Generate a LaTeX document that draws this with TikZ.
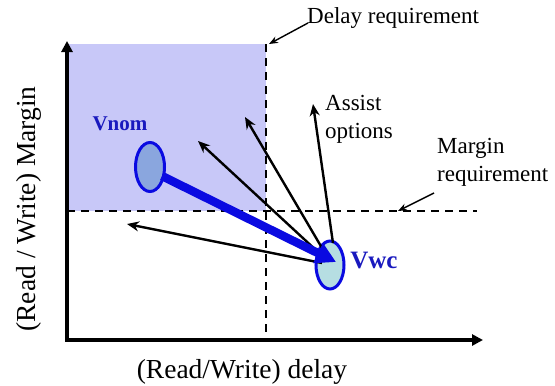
\documentclass[tikz,border=0pt]{standalone}
\usepackage{fontspec}
\setmainfont{Liberation Serif}
\usetikzlibrary{arrows.meta,shapes.geometric}
\definecolor{regionfill}{RGB}{200,200,248}
\definecolor{nomfill}{RGB}{138,166,222}
\definecolor{wcfill}{RGB}{182,222,226}
\definecolor{ptblue}{RGB}{10,10,225}
\definecolor{lblblue}{RGB}{25,25,190}
\tikzset{
  axis/.style={line width=3.5pt,-{Triangle[length=11pt,width=11pt]}},
  reqline/.style={line width=2.5pt,dash pattern=on 8pt off 6pt},
  corner/.style={line width=1.4pt,-{Stealth[length=9pt,width=7pt]}},
  assist/.style={line width=2.4pt,-{Stealth[length=12pt,width=10pt]}},
  vpoint/.style={ellipse,draw=ptblue,line width=3pt,inner sep=0pt},
  note/.style={font=\fontsize{23}{28}\selectfont,align=left,inner sep=0pt},
  axlabel/.style={font=\fontsize{27.5}{30}\selectfont,inner sep=0pt}
}
\begin{document}
\begin{tikzpicture}[x=1pt,y=-1pt]
\useasboundingbox (0,0) rectangle (555,386);
% feasible region
\fill[regionfill] (67,44) rectangle (266,211);
% requirement lines
\coordinate (dtop) at (266,44);
\coordinate (dbot) at (266,341);
\coordinate (mleft) at (67,211);
\coordinate (mright) at (477,211);
\draw[reqline] (dtop) -- (dbot);
\draw[reqline] (mleft) -- (mright);
% axes
\coordinate (origin) at (67,340);
\coordinate (ytop) at (67,41);
\coordinate (xend) at (483,340);
\draw[axis] ([yshift=1.75pt]origin) -- (ytop);
\draw[axis] ([xshift=-1.75pt]origin) -- (xend);
% operating points
\node[vpoint,fill=nomfill,minimum width=29pt,minimum height=49pt] (vnom) at (150,167) {};
\node[vpoint,fill=wcfill,minimum width=28pt,minimum height=48pt] (vwc) at (330,265) {};
\node[text=lblblue,font=\bfseries\fontsize{21}{24}\selectfont] (vnomlbl) at (120,124) {Vnom};
\node[text=lblblue,font=\bfseries\fontsize{25}{28}\selectfont] (vwclbl) at (374,261) {Vwc};
% assist option arrows
\coordinate (a1) at (127,224);
\coordinate (a2) at (198,141);
\coordinate (a3) at (245,117);
\coordinate (a4) at (313,104);
\draw[assist] (vwc.center) ++(-8,-2) -- (a1);
\draw[assist] (vwc.center) ++(-12,-13) -- (a2);
\draw[assist] (vwc.center) ++(-8,-17) -- (a3);
\draw[assist] (vwc.center) ++(3,-22) -- (a4);
% nominal to worst-case shift
\draw[ptblue,line width=8.5pt,-{Triangle[length=20pt,width=21pt]}] (vnom.center) ++(12,9) -- ([xshift=6pt,yshift=3pt]vwc.center);
% annotations
\node[note,anchor=west] (assistlbl) at (325,119) {Assist\\options};
\node[note,anchor=west] (marginlbl) at (437,162) {Margin\\requirement};
\node[note,anchor=west] (delaylbl) at (307,18) {Delay requirement};
\coordinate (mtail) at (434,193);
\coordinate (mtip) at (398,211);
\draw[corner] (mtail) -- (mtip);
\coordinate (dtail) at (308,23);
\coordinate (dtip) at (269,44);
\draw[corner] (dtail) -- (dtip);
% axis titles
\node[axlabel,rotate=90] (ylbl) at (29,209) {(Read / Write) Margin};
\node[axlabel] (xlbl) at (242,372) {(Read/Write) delay};
\end{tikzpicture}
\end{document}
